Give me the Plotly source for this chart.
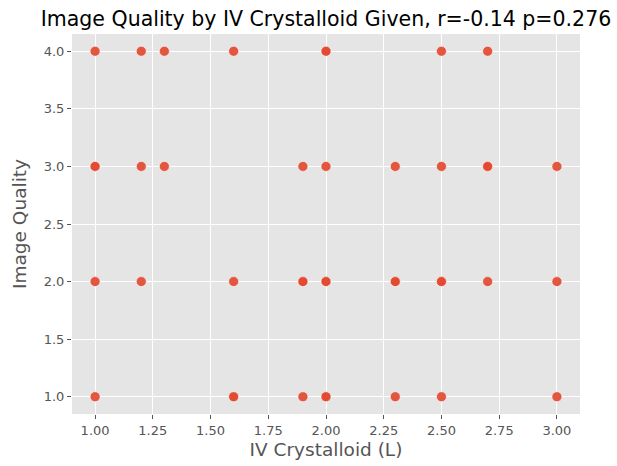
import plotly.graph_objects as go

# Data (duplicates where markers look overlapped/darker)
iv_crystalloid = [1.0, 1.2, 1.3, 1.6, 2.0, 2.0, 2.5, 2.7,
                  1.0, 1.0, 1.2, 1.3, 1.9, 2.0, 2.3, 2.5, 2.7, 2.7, 3.0,
                  1.0, 1.2, 1.6, 1.9, 1.9, 2.0, 2.0, 2.3, 2.3, 2.5, 2.5, 2.7, 3.0,
                  1.0, 1.6, 1.6, 1.9, 2.0, 2.0, 2.3, 2.5, 3.0]
image_quality = [4, 4, 4, 4, 4, 4, 4, 4,
                 3, 3, 3, 3, 3, 3, 3, 3, 3, 3, 3,
                 2, 2, 2, 2, 2, 2, 2, 2, 2, 2, 2, 2, 2,
                 1, 1, 1, 1, 1, 1, 1, 1, 1]
x_ticks = [1.00, 1.25, 1.50, 1.75, 2.00, 2.25, 2.50, 2.75, 3.00]
y_ticks = [1.0, 1.5, 2.0, 2.5, 3.0, 3.5, 4.0]

fig = go.Figure()
fig.add_trace(go.Scatter(
    x=iv_crystalloid, y=image_quality, mode="markers",
    marker=dict(color="#E24A33", size=10, opacity=0.92,
                line=dict(color="rgba(255,255,255,0.6)", width=1)),
    showlegend=False,
))

font = "DejaVu Sans, sans-serif"
fig.update_layout(
    width=617, height=466,
    paper_bgcolor="white", plot_bgcolor="#E5E5E5",
    margin=dict(l=72, r=37, t=34, b=52),
    font=dict(family=font, color="#555555"),
    title=dict(text="Image Quality by IV Crystalloid Given, r=-0.14 p=0.276",
               x=(72 + 580) / 2 / 617, xref="container", xanchor="center",
               y=1 - 19 / 466, yref="container", yanchor="middle",
               font=dict(size=20.5, color="black", family=font)),
)
fig.update_xaxes(
    range=[0.9, 3.1], tickvals=x_ticks, ticktext=[f"{v:.2f}" for v in x_ticks],
    showgrid=True, gridcolor="white", gridwidth=1, zeroline=False,
    ticks="outside", ticklen=4, tickcolor="#555555", tickwidth=1,
    tickfont=dict(size=13, color="#555555"), automargin=False,
    title=dict(text="IV Crystalloid (L)", font=dict(size=18.5, color="#555555"), standoff=6),
    showline=False,
)
fig.update_yaxes(
    range=[0.85, 4.15], tickvals=y_ticks, ticktext=[f"{v:.1f}" for v in y_ticks],
    showgrid=True, gridcolor="white", gridwidth=1, zeroline=False,
    ticks="outside", ticklen=4, tickcolor="#555555", tickwidth=1,
    tickfont=dict(size=13, color="#555555"), automargin=False,
    title=dict(text="Image Quality", font=dict(size=18.5, color="#555555"), standoff=12),
    showline=False,
)
fig.write_html("out.html", config={"displayModeBar": False},
               post_script="document.body.style.margin='0';")
